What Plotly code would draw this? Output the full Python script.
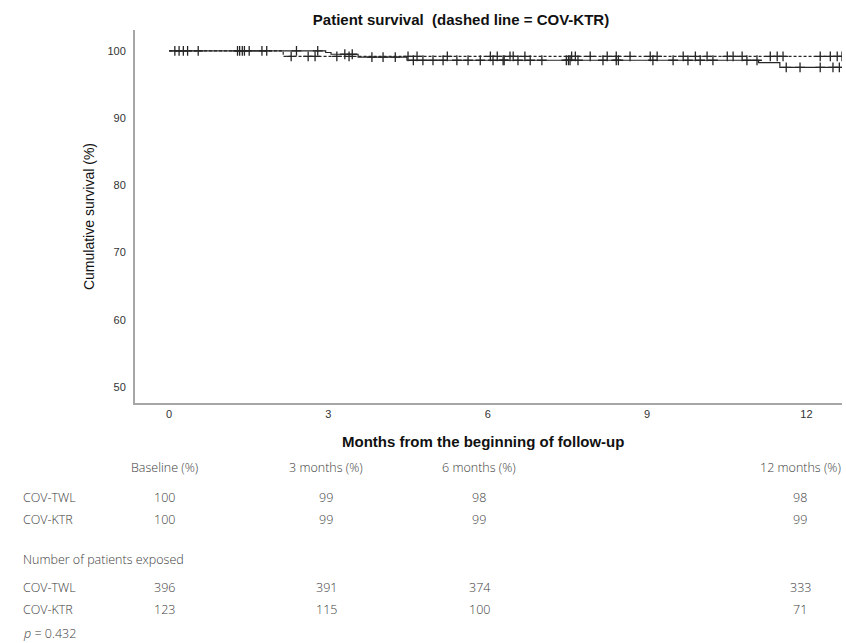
import plotly.graph_objects as go

# Kaplan-Meier steps (months, cumulative survival %)
twl_times = [0.0, 2.95, 3.05, 3.56, 4.48, 11.10, 11.50, 12.67]
twl_surv = [100.0, 99.75, 99.49, 99.05, 98.60, 98.25, 97.55, 97.55]
ktr_times = [0.0, 2.15, 12.67]
ktr_surv = [100.0, 99.19, 99.19]

# censored observations (months)
twl_censored = [0.11, 0.19, 0.27, 0.35, 0.55, 1.29, 1.33, 1.38, 1.42, 1.51, 1.75, 1.84,
                2.40, 2.80, 3.31, 3.45, 3.82, 4.03, 4.26, 4.60, 4.78, 4.97, 5.16, 5.42,
                5.63, 5.86, 6.10, 6.29, 6.31, 6.57, 6.80, 7.02, 7.48, 7.52, 7.55, 7.70,
                8.17, 8.42, 8.46, 9.11, 9.49, 9.77, 10.00, 10.24, 10.88, 11.07, 11.62,
                11.88, 12.26, 12.50, 12.62]
ktr_censored = [2.30, 2.62, 2.75, 3.16, 3.39, 4.50, 4.67, 5.24, 6.05, 6.18, 6.42, 6.48,
                6.70, 7.58, 7.65, 7.93, 8.25, 8.42, 8.68, 9.06, 9.19, 9.68, 9.91, 10.13,
                10.51, 10.62, 10.79, 11.32, 11.45, 11.56, 12.26, 12.45, 12.58, 12.67]

x_ticks = [0, 3, 6, 9, 12]
y_ticks = [50, 60, 70, 80, 90, 100]

# summary table below the chart
col_headers = ["Baseline (%)", "3 months (%)", "6 months (%)", "12 months (%)"]
groups = ["COV-TWL", "COV-KTR"]
surv_pct = {"COV-TWL": [100, 99, 98, 98], "COV-KTR": [100, 99, 99, 99]}
at_risk = {"COV-TWL": [396, 391, 374, 333], "COV-KTR": [123, 115, 100, 71]}
p_value = "0.432"


def surv_at(times, surv, t):
    s = surv[0]
    for ti, si in zip(times, surv):
        if ti <= t:
            s = si
    return s


W, H = 846, 643
L, R, T, B = 135, 4, 30, 240
PW, PH = W - L - R, H - T - B


def px(x):
    return (x - L) / PW


def py(y):
    return (H - B - y) / PH


fig = go.Figure()

line_col = "#262626"
fig.add_trace(go.Scatter(x=twl_times, y=twl_surv, mode="lines", line_shape="hv",
                         line=dict(color=line_col, width=1.2), name="COV-TWL",
                         showlegend=False, hoverinfo="skip"))
fig.add_trace(go.Scatter(x=ktr_times, y=ktr_surv, mode="lines", line_shape="hv",
                         line=dict(color=line_col, width=1.2, dash="3px,2px"), name="COV-KTR",
                         showlegend=False, hoverinfo="skip"))

for times, surv, cens in [(twl_times, twl_surv, twl_censored),
                          (ktr_times, ktr_surv, ktr_censored)]:
    fig.add_trace(go.Scatter(
        x=cens, y=[surv_at(times, surv, t) for t in cens], mode="markers",
        marker=dict(symbol="cross-thin", size=7, line=dict(width=1.3, color=line_col)),
        showlegend=False, hoverinfo="skip"))

ann = []
tab_font = dict(family="Open Sans", size=12.5, color="#3c3c3c", weight=300)
col_px = [164, 326, 479, 800]
row_label_px = 21


def text_at(s, x, y, anchor="center", font=tab_font):
    ann.append(dict(text=s, x=px(x), y=py(y), xref="paper", yref="paper", showarrow=False,
                    xanchor=anchor, yanchor="middle", font=font))


text_at("Months from the beginning of follow-up", 483, 441,
        font=dict(family="Arial", size=15, color="#111111", weight="bold"))

for cx, h in zip(col_px, col_headers):
    text_at(h, cx, 467)

for g, yy in zip(groups, [497, 519]):
    text_at(g, row_label_px, yy, anchor="left")
    for cx, v in zip(col_px, surv_pct[g]):
        text_at(str(v), cx, yy)

text_at("Number of patients exposed", row_label_px, 559, anchor="left")

for g, yy in zip(groups, [587, 609]):
    text_at(g, row_label_px, yy, anchor="left")
    for cx, v in zip(col_px, at_risk[g]):
        text_at(str(v), cx, yy)

text_at("<i>p</i> = " + p_value, row_label_px, 633, anchor="left")

fig.update_layout(
    width=W, height=H,
    margin=dict(l=L, r=R, t=T, b=B),
    paper_bgcolor="white", plot_bgcolor="white",
    title=dict(text="Patient survival  (dashed line = COV-KTR)", x=461 / W, xanchor="center",
               y=1 - 20 / H, yanchor="middle", yref="container",
               font=dict(family="Arial", size=15, color="#111111", weight="bold")),
    xaxis=dict(range=[-0.64, 12.67], tickvals=x_ticks, ticktext=[str(v) for v in x_ticks],
               showgrid=False, zeroline=False, showline=True, linecolor="#a6a6a6", linewidth=2,
               ticks="", ticklen=0, tickfont=dict(family="Arial", size=11, color="#333333")),
    yaxis=dict(range=[47.6, 103.1], tickvals=y_ticks, ticktext=[str(v) for v in y_ticks],
               showgrid=False, zeroline=False, showline=True, linecolor="#a6a6a6", linewidth=2,
               ticks="outside", ticklen=5, tickcolor="rgba(0,0,0,0)",
               tickfont=dict(family="Arial", size=11, color="#333333"),
               title=dict(text="Cumulative survival (%)", standoff=10,
                          font=dict(family="Arial", size=14, color="#111111"))),
    annotations=ann,
)

fig.write_html("out.html")
